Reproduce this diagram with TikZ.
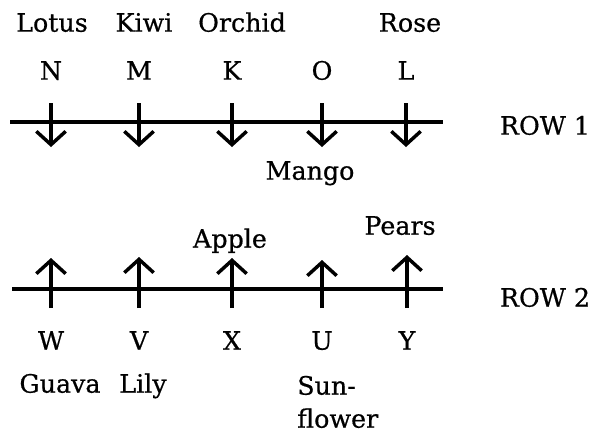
\documentclass[tikz,border=0pt]{standalone}
\usepackage{fontspec}
\setmainfont{DejaVu Serif}[FakeBold=0.6]
\usetikzlibrary{arrows.meta}
\begin{document}
\begin{tikzpicture}[x=0.75pt,y=-0.75pt,
  lbl/.style={inner sep=0pt,text height=14pt,text depth=4pt,font=\fontsize{19pt}{22pt}\selectfont},
  rowline/.style={line width=2.6pt},
  marker/.style={line width=2.6pt,-{Straight Barb[length=10pt,width=22pt,line width=2.6pt]}}]
\useasboundingbox (0,0) rectangle (592,433);
% Row 1
\coordinate (r1a) at (10,122);
\coordinate (r1b) at (443,122);
\draw[rowline] (r1a) -- (r1b);
\node[lbl] (rowone) at (545,128) {ROW 1};
\foreach \nm/\x/\lt in {n/51/N,m/139/M,k/232/K,o/322/O,l/406/L}{
  \node[lbl] (\nm) at (\x,73) {\lt};
  \coordinate (\nm s) at (\x,103);
  \coordinate (\nm e) at (\x,147);
  \draw[marker] (\nm s) -- (\nm e);
}
\node[lbl] (lotus) at (52,25) {Lotus};
\node[lbl] (kiwi) at (144,25) {Kiwi};
\node[lbl] (orchid) at (242,25) {Orchid};
\node[lbl] (rose) at (410,25) {Rose};
\node[lbl] (mango) at (310,173) {Mango};
% Row 2
\coordinate (r2a) at (12,289);
\coordinate (r2b) at (443,289);
\draw[rowline] (r2a) -- (r2b);
\node[lbl] (rowtwo) at (545,300) {ROW 2};
\foreach \nm/\x/\lt/\tip in {w/51/W/258,v/139/V/257,x/232/X/258,u/322/U/260,y/407/Y/255}{
  \node[lbl] (\nm) at (\x,343) {\lt};
  \coordinate (\nm s) at (\x,308);
  \coordinate (\nm e) at (\x,\tip);
  \draw[marker] (\nm s) -- (\nm e);
}
\node[lbl] (guava) at (60,386) {Guava};
\node[lbl] (lily) at (143,386) {Lily};
\node[lbl] (apple) at (230,241) {Apple};
\node[lbl] (pears) at (400,228) {Pears};
\node[lbl,anchor=west] (sun) at (297,388) {Sun-};
\node[lbl,anchor=west] (flower) at (297,421) {flower};
\end{tikzpicture}
\end{document}
